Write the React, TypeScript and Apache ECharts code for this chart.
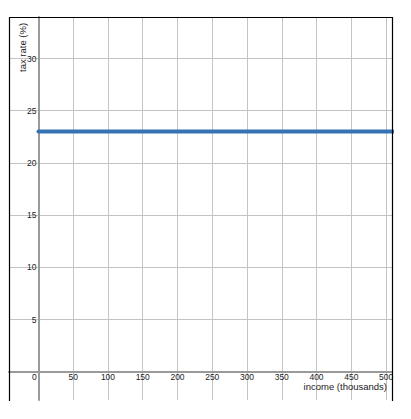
import React, { useEffect, useRef } from "react";
import * as echarts from "echarts";

const incomeX = [0, 510];
const taxRate = [23, 23];
const xTickValues = [0, 50, 100, 150, 200, 250, 300, 350, 400, 450, 500];
const yGridValues = [0, 5, 10, 15, 20, 25, 30];
const yTickValues = [5, 10, 15, 20, 25, 30];
const xRange = [-42.4, 508.6];
const yRange = [-2.71, 33.98];
const xTitle = "income (thousands)";
const yTitle = "tax rate (%)";

const FONT = "'Liberation Sans', Arial, sans-serif";
const G = { left: 9, top: 17, width: 383, height: 383 };

export default function App() {
  const ref = useRef<HTMLDivElement>(null);
  useEffect(() => {
    if (!ref.current) return;
    const chart = echarts.init(ref.current, null, { renderer: "svg" });
    // pixel distance from grid edge to the zero lines (so axes sit on zero)
    const xAxisOffset = -((0 - yRange[0]) / (yRange[1] - yRange[0])) * G.height;
    const yAxisOffset = -((0 - xRange[0]) / (xRange[1] - xRange[0])) * G.width;
    chart.setOption({
      animation: false,
      backgroundColor: "#ffffff",
      grid: { ...G, containLabel: false },
      xAxis: {
        type: "value",
        position: "bottom",
        offset: xAxisOffset,
        min: xRange[0],
        max: xRange[1],
        axisLine: { show: true, onZero: false, lineStyle: { color: "#9a9a9a", width: 2 } },
        axisTick: { show: false, customValues: xTickValues },
        splitLine: { show: true, customValues: xTickValues, lineStyle: { color: "#c4c4c4", width: 1 } },
        axisLabel: {
          show: true,
          customValues: xTickValues,
          margin: 1,
          fontSize: 8.5,
          lineHeight: 8,
          color: "#222",
          fontFamily: FONT,
          formatter: (v: number) => (Math.abs(v) < 1e-6 ? "{z|0}" : String(Math.round(v))),
          rich: { z: { padding: [0, 8, 0, 0], fontSize: 8.5, lineHeight: 8, color: "#222", fontFamily: FONT } },
        },
      },
      yAxis: {
        type: "value",
        position: "left",
        offset: yAxisOffset,
        min: yRange[0],
        max: yRange[1],
        axisLine: { show: true, onZero: false, lineStyle: { color: "#9a9a9a", width: 2 } },
        axisTick: { show: false, customValues: yGridValues },
        splitLine: { show: true, customValues: yGridValues, lineStyle: { color: "#c4c4c4", width: 1 } },
        axisLabel: {
          show: true,
          customValues: yTickValues,
          margin: 2,
          fontSize: 8.5,
          color: "#222",
          fontFamily: FONT,
          formatter: (v: number) => String(Math.round(v)),
        },
      },
      series: [
        {
          type: "line",
          data: incomeX.map((x, i) => [x, taxRate[i]]),
          symbol: "none",
          clip: true,
          lineStyle: { color: "#3672b4", width: 4, cap: "round" },
        },
      ],
      graphic: [
        {
          type: "polyline",
          shape: { points: [[9.5, 401], [9.5, 17.5], [392.5, 17.5], [392.5, 401]] },
          style: { stroke: "#000", lineWidth: 1.2, fill: null },
          z: 100,
        },
        {
          type: "text",
          x: 387,
          y: 381.5,
          style: { text: xTitle, fontSize: 9.5, fill: "#222", fontFamily: FONT, textAlign: "right", textVerticalAlign: "top" },
          z: 100,
        },
        {
          type: "text",
          x: 22,
          y: 72,
          rotation: Math.PI / 2,
          style: { text: yTitle, fontSize: 9.5, fill: "#222", fontFamily: FONT, textAlign: "left", textVerticalAlign: "middle" },
          z: 100,
        },
      ],
    });
    return () => chart.dispose();
  }, []);
  return <div ref={ref} style={{ width: 411, height: 419, marginLeft: -8, marginTop: -8 }} />;
}
